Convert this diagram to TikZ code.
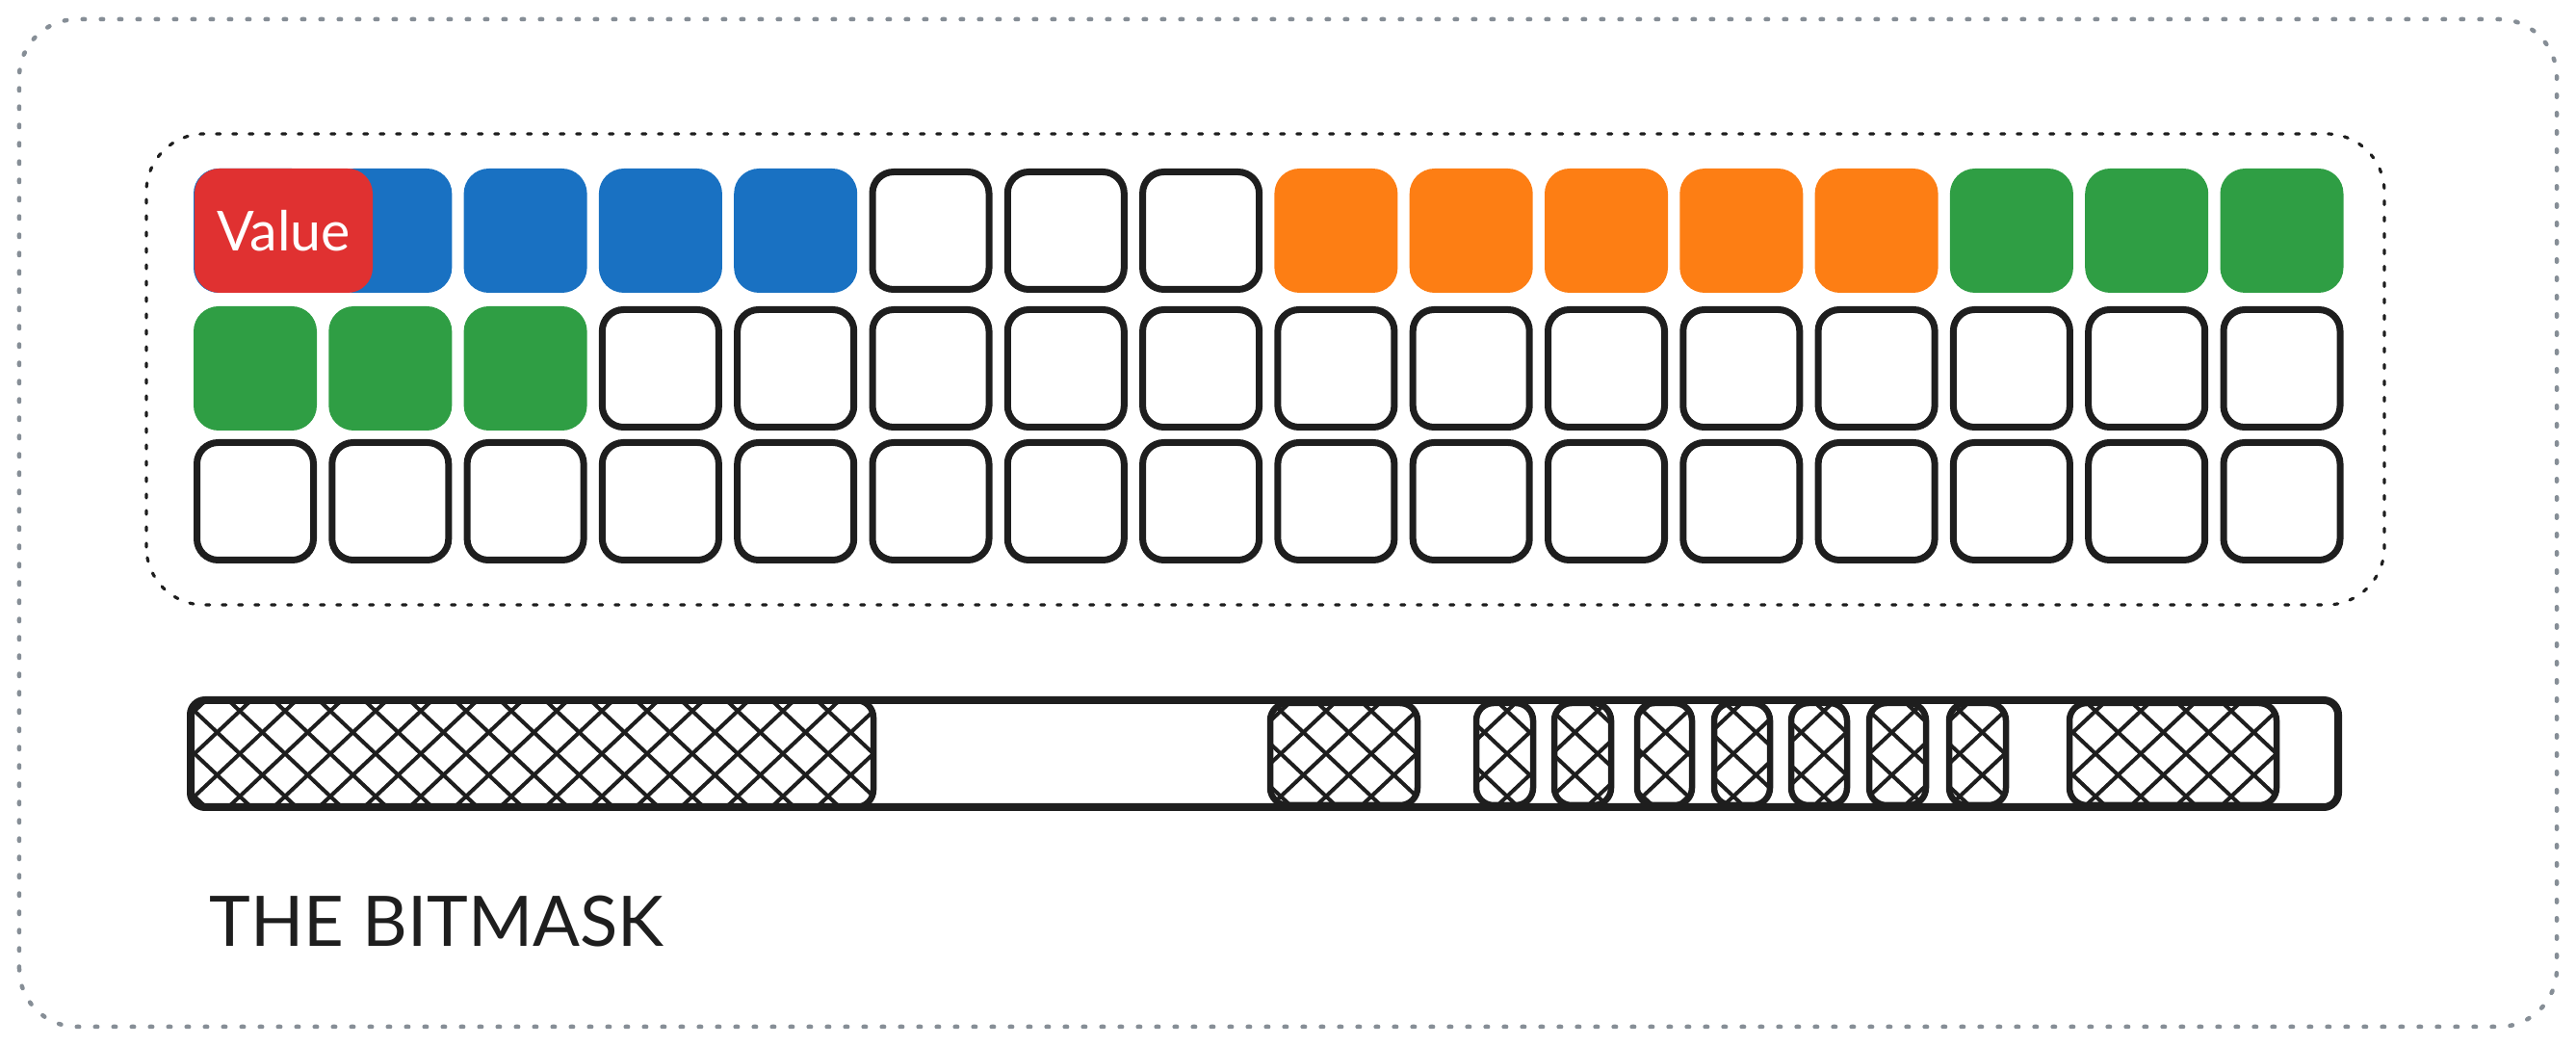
\documentclass[tikz,border=0pt]{standalone}
\usepackage{fontspec}
\newfontfamily\labelfont{Lato}
\definecolor{cblack}{HTML}{1E1E1E}
\definecolor{cgray}{HTML}{868E96}
\definecolor{cblue}{HTML}{1971C2}
\definecolor{cgreen}{HTML}{2F9E44}
\definecolor{corange}{HTML}{FD7E14}
\definecolor{cred}{HTML}{E03131}
\begin{document}
\begin{tikzpicture}[
    cell/.style={rectangle, rounded corners=0.26cm, minimum width=1.28cm, minimum height=1.29cm, inner sep=0pt, outer sep=0pt},
    bluecell/.style={cell, fill=cblue},
    greencell/.style={cell, fill=cgreen},
    orangecell/.style={cell, fill=corange},
    emptycell/.style={cell, draw=cblack, line width=0.07cm, rounded corners=0.22cm, minimum width=1.21cm, minimum height=1.22cm},
    valuebox/.style={cell, fill=cred, minimum width=1.85cm, text=white, font=\labelfont\fontsize{16.3}{19}\selectfont},
    hatchline/.style={draw=cblack, line width=0.04cm},
    slotline/.style={draw=cblack, line width=0.065cm, rounded corners=0.18cm},
  ]
            \useasboundingbox (0.000000,0.000000) rectangle (26.750000,10.850000);

            % Drawing outer frame
            \draw [cgray, line width=0.045cm, line cap=round, dash pattern=on 0.025cm off 0.165cm, rounded corners=0.6cm] (0.200000,0.190000) rectangle (26.550000,10.650000);%

            % Drawing frame round the cells
            \draw [cblack, line width=0.032cm, line cap=round, dash pattern=on 0.04cm off 0.13cm, rounded corners=0.6cm] (1.520000,4.570000) rectangle (24.760000,9.460000);%

            % Drawing row 1
            \foreach \col/\sty in {1/bluecell,2/bluecell,3/bluecell,4/bluecell,5/bluecell,6/emptycell,7/emptycell,8/emptycell,9/orangecell,10/orangecell,11/orangecell,12/orangecell,13/orangecell,14/greencell,15/greencell,16/greencell}
              \node [\sty] (r1c\col) at ({2.65+1.403*(\col-1)},8.455) {};%

            % Drawing row 2
            \foreach \col/\sty in {1/greencell,2/greencell,3/greencell,4/emptycell,5/emptycell,6/emptycell,7/emptycell,8/emptycell,9/emptycell,10/emptycell,11/emptycell,12/emptycell,13/emptycell,14/emptycell,15/emptycell,16/emptycell}
              \node [\sty] (r2c\col) at ({2.65+1.403*(\col-1)},7.025) {};%

            % Drawing row 3
            \foreach \col in {1,...,16}
              \node [emptycell] (r3c\col) at ({2.65+1.403*(\col-1)},5.645) {};%

            % Marking the value
            \node [valuebox] (value) at (2.945000,8.455000) {Value};%

            % Drawing the bitmask bar
            \draw [cblack, line width=0.08cm, rounded corners=0.15cm] (1.980000,2.470000) rectangle (24.280000,3.580000);%

            % Drawing the hatched slots
            \foreach \xa/\xb/\ya/\yb in {1.98/9.07/2.47/3.58, 13.19/14.72/2.49/3.55, 15.33/15.92/2.49/3.55, 16.14/16.73/2.49/3.55, 17.00/17.57/2.49/3.55, 17.80/18.38/2.49/3.55, 18.60/19.18/2.49/3.55, 19.41/20.00/2.49/3.55, 20.24/20.83/2.49/3.55, 21.49/23.64/2.49/3.55} {
              \begin{scope}
                \clip [rounded corners=0.18cm] (\xa,\ya) rectangle (\xb,\yb);
                \foreach \s in {-3,...,60}
                  \draw [hatchline] ({\s*0.47},2.450000) -- ++(1.22,1.15) ({\s*0.47},3.600000) -- ++(1.22,-1.15);
              \end{scope}
              \draw [slotline] (\xa,\ya) rectangle (\xb,\yb);%
            }

            % Writing the caption
            \node [anchor=base west, inner sep=0pt, text=cblack, font=\labelfont\fontsize{20.6}{24}\selectfont] (caption) at (2.170000,1.020000) {THE BITMASK};%
\end{tikzpicture}
\end{document}
